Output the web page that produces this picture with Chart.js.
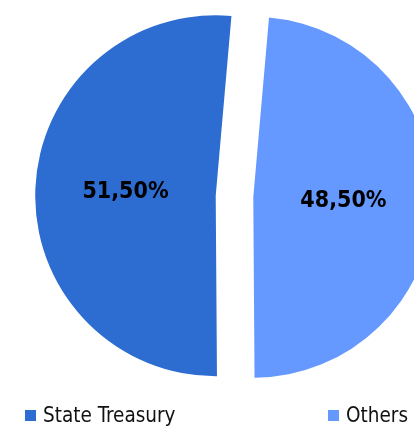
<!DOCTYPE html>
<html>
<head>
<meta charset="utf-8">
<script src="https://cdn.jsdelivr.net/npm/chart.js@4/dist/chart.umd.min.js"></script>
<style>
  html, body { margin: 0; padding: 0; background: #fff; }
  #wrap { position: relative; width: 414px; height: 428px; overflow: hidden; }
  #chartBox { position: absolute; left: 0; top: 0; width: 414px; height: 428px; }
  #legend {
    position: absolute; left: 25px; right: 6px; top: 403px;
    display: flex; justify-content: space-between; align-items: center;
    font-family: "DejaVu Sans Condensed", "DejaVu Sans", sans-serif;
    font-size: 20.5px; color: #111; line-height: 24px;
  }
  .item { display: flex; align-items: center; }
  .box { width: 11px; height: 11px; margin-right: 7px; }
</style>
</head>
<body>
<div id="wrap">
  <div id="chartBox"><canvas id="pie"></canvas></div>
  <div id="legend"></div>
</div>
<script>
const labels = ["State Treasury", "Others"];
const shares = [51.5, 48.5];
const colors = ["#2d6dd2", "#6699ff"];

// how far each slice is pulled out from the middle
const explode = 18.8;

// move each slice along its bisector (pure translation, like excel)
const explodePlugin = {
  id: "explode",
  afterDatasetsUpdate(chart) {
    chart.getDatasetMeta(0).data.forEach((arc) => {
      const mid = (arc.startAngle + arc.endAngle) / 2;
      arc.x += Math.cos(mid) * explode;
      arc.y += Math.sin(mid) * explode;
    });
  }
};

// percent labels inside the slices
const valueLabels = {
  id: "valueLabels",
  afterDatasetsDraw(chart) {
    const ctx = chart.ctx;
    const meta = chart.getDatasetMeta(0);
    ctx.save();
    ctx.font = "bold 23px 'DejaVu Sans Condensed', 'DejaVu Sans', sans-serif";
    ctx.fillStyle = "#000";
    ctx.textAlign = "center";
    ctx.textBaseline = "middle";
    meta.data.forEach((arc, i) => {
      const p = arc.getCenterPoint();
      const txt = shares[i].toFixed(2).replace(".", ",") + "%";
      ctx.fillText(txt, p.x, p.y);
    });
    ctx.restore();
  }
};

new Chart(document.getElementById("pie"), {
  type: "pie",
  data: {
    labels: labels,
    datasets: [{
      data: shares,
      backgroundColor: colors,
      borderWidth: 0,
      clip: false
    }]
  },
  options: {
    responsive: true,
    maintainAspectRatio: false,
    animation: false,
    events: [],
    rotation: 179.6,
    radius: 180.5,
    layout: { padding: { left: 55, right: 0, top: 0, bottom: 35 } },
    plugins: {
      legend: { display: false },
      tooltip: { enabled: false }
    }
  },
  plugins: [explodePlugin, valueLabels]
});

// legend below the pie
document.getElementById("legend").innerHTML = labels
  .map((name, i) => `
    <div class="item">
      <span class="box" style="background:${colors[i]}"></span>
      <span>${name}</span>
    </div>`)
  .join("");
</script>
</body>
</html>
